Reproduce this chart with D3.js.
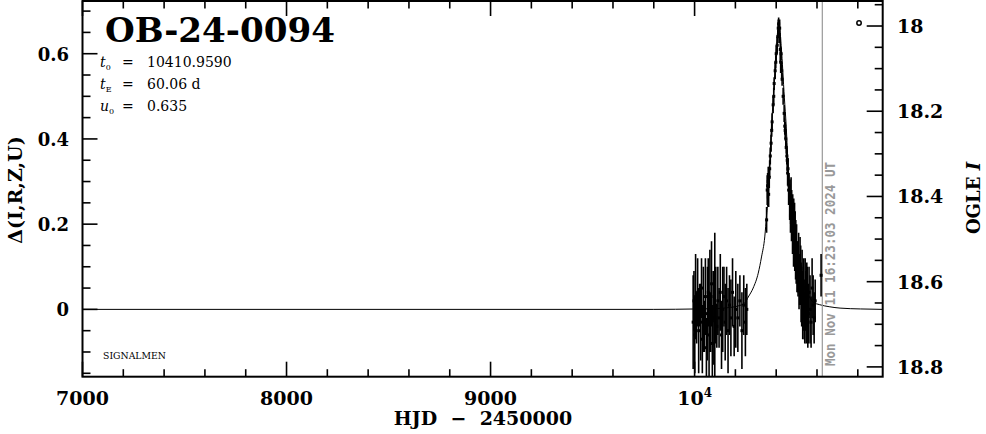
<!DOCTYPE html>
<html><head><meta charset="utf-8">
<script src="https://cdn.jsdelivr.net/npm/d3@7"></script>
<style>body{margin:0;background:#fff}svg{display:block}</style>
</head><body><svg id="c" width="986" height="434"></svg>
<script>
// ---------- data ----------
const xMajorTicks = [7000, 8000, 9000, 10000];
const xMajorLabels = ["7000", "8000", "9000", "10^4"];
const deltaTicks = [0, 0.2, 0.4, 0.6];
const deltaLabels = ["0", "0.2", "0.4", "0.6"];
const magTicks = [18, 18.2, 18.4, 18.6, 18.8];
const magLabels = ["18", "18.2", "18.4", "18.6", "18.8"];

const modelHJD = [7000, 9800, 10013, 10113, 10163, 10213, 10246, 10263, 10287, 10312, 10328, 10344, 10353, 10361, 10369, 10377, 10386, 10401, 10413, 10425, 10440, 10449, 10457, 10465, 10473, 10482, 10498, 10514, 10539, 10563, 10580, 10613, 10663, 10713, 10813, 10922];
const modelDelta = [0, 0, 0.001, 0.002, 0.004, 0.008, 0.015, 0.029, 0.050, 0.085, 0.123, 0.170, 0.222, 0.265, 0.35, 0.43, 0.497, 0.615, 0.673, 0.615, 0.497, 0.43, 0.35, 0.265, 0.222, 0.170, 0.123, 0.085, 0.050, 0.029, 0.017, 0.011, 0.006, 0.003, 0.001, 0];

const obsHJD = [
 9993, 9997, 10001, 10005, 10010, 10015, 10020, 10025, 10030, 10034, 10038, 10043, 10048, 10053, 10058, 10063, 10067, 10071, 10075, 10079,
 10083, 10087, 10091, 10095, 10099, 10104, 10109, 10114, 10120, 10126, 10132, 10138, 10144, 10150, 10157, 10164, 10171, 10178, 10186, 10194,
 10202, 10212, 10222, 10232, 10241, 10249, 10256,
 10353, 10356, 10358, 10361, 10363, 10366, 10368, 10371, 10375, 10378, 10380, 10385, 10388, 10390, 10395, 10398, 10400, 10405, 10408, 10410,
 10412, 10415, 10417, 10420, 10422, 10424, 10427, 10429, 10434, 10439, 10442, 10444, 10447,
 10449, 10452, 10454, 10456, 10458, 10461, 10463, 10466, 10468, 10470, 10471, 10473, 10475, 10476, 10478, 10480, 10481, 10483, 10485, 10486,
 10488, 10490, 10491, 10493, 10495, 10496, 10498, 10500, 10502, 10505, 10507, 10510, 10512, 10515, 10517, 10520, 10522, 10525, 10527, 10530,
 10532, 10535, 10537, 10540, 10542, 10545, 10547, 10550, 10552, 10555, 10557, 10561, 10566, 10571, 10576, 10581, 10586, 10591, 10620
];
const obsDelta = [
 -0.03, 0.02, -0.06, 0.03, -0.02, 0.04, -0.05, 0.01, -0.03, 0.05, -0.07, 0.00, -0.04, 0.03, -0.09, -0.01, 0.04, -0.06, 0.02, -0.03,
 0.06, -0.08, -0.02, 0.03, -0.02, 0.01, -0.04, 0.02, -0.02, 0.04, -0.06, 0.00, 0.03, -0.03, 0.02, -0.05, 0.01, -0.02, 0.04, -0.04,
 0.00, -0.02, 0.02, -0.05, 0.01, -0.03, 0.00,
 0.21, 0.28, 0.29, 0.30, 0.27, 0.31, 0.33, 0.36, 0.39, 0.42, 0.44, 0.48, 0.50, 0.53, 0.56, 0.58, 0.60, 0.62, 0.64, 0.66,
 0.67, 0.645, 0.66, 0.61, 0.58, 0.60, 0.56, 0.54, 0.50, 0.46, 0.43, 0.42, 0.40,
 0.38, 0.36, 0.35, 0.32, 0.33, 0.28, 0.29, 0.25, 0.27, 0.22, 0.24, 0.26, 0.20, 0.23, 0.21, 0.18, 0.22, 0.19, 0.15, 0.20,
 0.16, 0.19, 0.14, 0.17, 0.12, 0.15, 0.12, 0.14, 0.10, 0.10, 0.09, 0.11, 0.06, 0.07, 0.10, 0.08, 0.04, 0.03, 0.07, 0.01,
 0.02, 0.05, 0.00, -0.02, 0.05, 0.02, -0.02, 0.04, 0.03, -0.03, -0.01, 0.04, 0.00, -0.03, 0.05, 0.01, -0.02, 0.02, 0.08
];
const obsErr = [
 0.11, 0.07, 0.09, 0.10, 0.06, 0.08, 0.10, 0.05, 0.09, 0.07, 0.08, 0.10, 0.06, 0.09, 0.07, 0.11, 0.08, 0.10, 0.12, 0.07,
 0.10, 0.09, 0.11, 0.06, 0.20, 0.09, 0.05, 0.08, 0.07, 0.09, 0.08, 0.10, 0.07, 0.09, 0.08, 0.10, 0.07, 0.09, 0.08, 0.07,
 0.09, 0.08, 0.06, 0.09, 0.07, 0.08, 0.06,
 0.03, 0.035, 0.03, 0.035, 0.03, 0.025, 0.02, 0.02, 0.02, 0.015, 0.02, 0.02, 0.02, 0.015, 0.02, 0.015, 0.02, 0.02, 0.015, 0.02,
 0.015, 0.02, 0.02, 0.03, 0.025, 0.015, 0.02, 0.015, 0.02, 0.02, 0.02, 0.02, 0.02,
 0.015, 0.02, 0.025, 0.03, 0.025, 0.035, 0.03, 0.04, 0.035, 0.04, 0.04, 0.05, 0.04, 0.05, 0.04, 0.05, 0.05, 0.05, 0.05, 0.06,
 0.05, 0.06, 0.05, 0.06, 0.05, 0.06, 0.06, 0.06, 0.06, 0.06, 0.06, 0.07, 0.06, 0.06, 0.07, 0.07, 0.07, 0.07, 0.07, 0.08,
 0.07, 0.07, 0.07, 0.06, 0.07, 0.07, 0.06, 0.07, 0.07, 0.06, 0.07, 0.06, 0.08, 0.06, 0.07, 0.07, 0.06, 0.05, 0.05
];

const nowHJD = 10626;
const nowLabel = "Mon Nov 11 16:23:03 2024 UT";
const cornerMarker = [10806, 0.672];
const eventName = "OB-24-0094";
const paramNames = ["t", "t", "u"];
const paramSubs = ["0", "E", "0"];
const paramValues = ["10410.9590", "60.06 d", "0.635"];

// ---------- layout ----------
const L = 82.5, R = 882.7, T = 1, B = 376.7;
const x = d3.scaleLinear().domain([7000, 10922]).range([L, R]);
const y = d3.scaleLinear().domain([-0.158, 0.7237]).range([B, T]);
const m = d3.scaleLinear().domain([18.823, 17.9413]).range([B, T]);

const svg = d3.select("#c");
const serif = "'DejaVu Serif', serif";

svg.append("defs").append("clipPath").attr("id", "clip")
  .append("rect").attr("x", L).attr("y", T).attr("width", R - L).attr("height", B - T);

const plot = svg.append("g").attr("clip-path", "url(#clip)");

// model curve
const line = d3.line().x((d, i) => x(modelHJD[i])).y((d, i) => y(modelDelta[i])).curve(d3.curveMonotoneX);
plot.append("path").datum(modelHJD).attr("d", line)
  .attr("fill", "none").attr("stroke", "#000").attr("stroke-width", 1);

// now line
plot.append("line").attr("x1", x(nowHJD)).attr("x2", x(nowHJD)).attr("y1", T).attr("y2", B)
  .attr("stroke", "#999").attr("stroke-width", 1.2);

// error bars and points
const idx = d3.range(obsHJD.length);
plot.selectAll("line.err").data(idx).join("line").attr("class", "err")
  .attr("x1", i => x(obsHJD[i])).attr("x2", i => x(obsHJD[i]))
  .attr("y1", i => y(obsDelta[i] - obsErr[i])).attr("y2", i => y(obsDelta[i] + obsErr[i]))
  .attr("stroke", "#000").attr("stroke-width", 1.6);
plot.selectAll("rect.pt").data(idx).join("rect").attr("class", "pt")
  .attr("x", i => x(obsHJD[i]) - 1.5).attr("y", i => y(obsDelta[i]) - 1.5)
  .attr("width", 3).attr("height", 3).attr("fill", "#000");

// corner marker
svg.append("circle").attr("cx", x(cornerMarker[0])).attr("cy", y(cornerMarker[1])).attr("r", 2.2)
  .attr("fill", "none").attr("stroke", "#000").attr("stroke-width", 1.5);

// now label
svg.append("text")
  .attr("transform", `translate(${x(nowHJD) + 13},366) rotate(-90)`)
  .attr("font-family", "'DejaVu Sans Mono', monospace").attr("font-weight", "bold")
  .attr("font-size", 14).attr("fill", "#999")
  .attr("textLength", 204).attr("lengthAdjust", "spacingAndGlyphs")
  .text(nowLabel);

// ---------- axes (ticks inward) ----------
const tickG = svg.append("g").attr("stroke", "#000").attr("stroke-width", 1.6);
const xMinor = d3.range(7000, 10922, 200).filter(v => !xMajorTicks.includes(v));
function vt(vals, len, atY, dir) {
  tickG.selectAll(null).data(vals).join("line")
    .attr("x1", d => x(d)).attr("x2", d => x(d)).attr("y1", atY).attr("y2", atY + dir * len);
}
vt(xMajorTicks, 15, B, -1); vt(xMinor, 7.5, B, -1);
vt(xMajorTicks, 15, T, 1); vt(xMinor, 7.5, T, 1);

const dMinor = d3.range(-0.15, 0.72, 0.05).map(v => +v.toFixed(2)).filter(v => !deltaTicks.includes(v));
tickG.selectAll(null).data(deltaTicks).join("line")
  .attr("x1", L).attr("x2", L + 15).attr("y1", d => y(d)).attr("y2", d => y(d));
tickG.selectAll(null).data(dMinor).join("line")
  .attr("x1", L).attr("x2", L + 8).attr("y1", d => y(d)).attr("y2", d => y(d));

const mMinor = d3.range(17.95, 18.83, 0.05).map(v => +v.toFixed(2)).filter(v => !magTicks.includes(v));
tickG.selectAll(null).data(magTicks).join("line")
  .attr("x1", R).attr("x2", R - 16).attr("y1", d => m(d)).attr("y2", d => m(d));
tickG.selectAll(null).data(mMinor).join("line")
  .attr("x1", R).attr("x2", R - 8).attr("y1", d => m(d)).attr("y2", d => m(d));

// frame
svg.append("rect").attr("x", L).attr("y", T).attr("width", R - L).attr("height", B - T)
  .attr("fill", "none").attr("stroke", "#000").attr("stroke-width", 2);

// ---------- labels ----------
const lab = svg.append("g").attr("font-family", serif).attr("font-weight", "bold").attr("fill", "#000");
xMajorTicks.forEach((v, i) => {
  const t = lab.append("text").attr("x", x(v)).attr("y", 405).attr("text-anchor", "middle").attr("font-size", 19);
  const s = xMajorLabels[i];
  if (s.includes("^")) {
    const [b, e] = s.split("^");
    t.append("tspan").text(b);
    t.append("tspan").attr("font-size", 12).attr("dy", -8).text(e);
  } else t.text(s);
});
deltaTicks.forEach((v, i) => {
  lab.append("text").attr("x", 69).attr("y", y(v) + 7).attr("text-anchor", "end").attr("font-size", 18).text(deltaLabels[i]);
});
magTicks.forEach((v, i) => {
  lab.append("text").attr("x", 897).attr("y", m(v) + 7).attr("text-anchor", "start").attr("font-size", 19).text(magLabels[i]);
});
lab.append("text").attr("x", 483).attr("y", 425).attr("text-anchor", "middle").attr("font-size", 19)
  .attr("xml:space", "preserve").text("HJD  \u2212  2450000");
lab.append("text").attr("transform", "translate(22,190) rotate(-90)").attr("text-anchor", "middle")
  .attr("font-size", 19).text("\u0394(I,R,Z,U)");
const ol = lab.append("text").attr("transform", "translate(980,198) rotate(-90)").attr("text-anchor", "middle")
  .attr("font-size", 18);
ol.append("tspan").text("OGLE ");
ol.append("tspan").attr("font-style", "italic").text("I");

// title
svg.append("text").attr("x", 105).attr("y", 41.5).attr("font-family", serif).attr("font-weight", "bold")
  .attr("font-size", 33).attr("textLength", 230).attr("lengthAdjust", "spacingAndGlyphs").text(eventName);

// parameters
paramNames.forEach((n, i) => {
  const yy = 67 + i * 22;
  const g = svg.append("g").attr("font-family", serif).attr("font-size", 14);
  const t = g.append("text").attr("x", 100).attr("y", yy);
  t.append("tspan").attr("font-style", "italic").text(n);
  t.append("tspan").attr("font-size", 8).attr("dy", 3).text(paramSubs[i]);
  g.append("text").attr("x", 122).attr("y", yy).text("=");
  g.append("text").attr("x", 147).attr("y", yy).attr("xml:space", "preserve").text(paramValues[i]);
});

svg.append("text").attr("x", 103).attr("y", 359).attr("font-family", serif).attr("font-size", 9.5)
  .attr("textLength", 63).attr("lengthAdjust", "spacingAndGlyphs").text("SIGNALMEN");
</script></body></html>
